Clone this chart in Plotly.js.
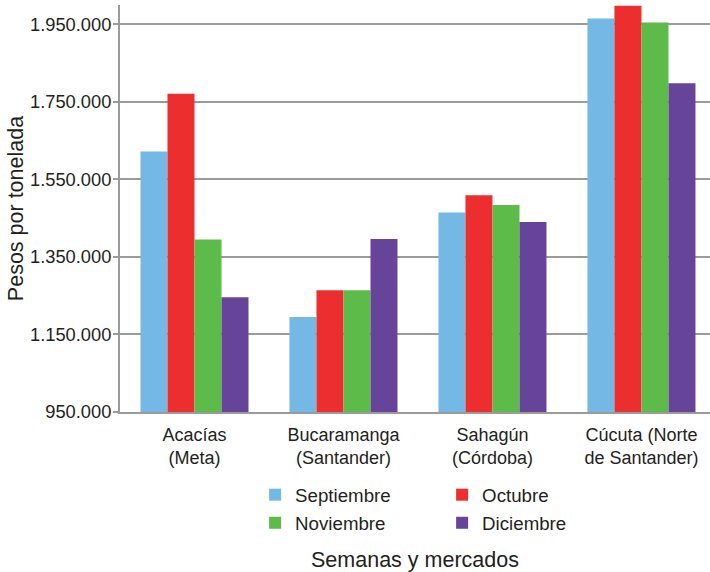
<!DOCTYPE html>
<html>
<head>
<meta charset="utf-8">
<script src="https://cdn.plot.ly/plotly-3.0.1.min.js"></script>
<style>html,body{margin:0;padding:0;background:#fff;}#chart{width:710px;height:572px;}</style>
</head>
<body>
<div id="chart"></div>
<script>
const categories = ["Acacías<br>(Meta)", "Bucaramanga<br>(Santander)", "Sahagún<br>(Córdoba)", "Cúcuta (Norte<br>de Santander)"];
const septiembre = [1622000, 1195000, 1465000, 1965000];
const octubre = [1771000, 1264000, 1509000, 1998000];
const noviembre = [1395000, 1264000, 1484000, 1955000];
const diciembre = [1246000, 1396000, 1440000, 1798000];
const yTicks = [950000, 1150000, 1350000, 1550000, 1750000, 1950000];

const FONT = "Liberation Sans, Arial, sans-serif";
const TXT = "#231f20";
const GRID = "#9b9b9b";

function mk(name, y, color, legend) {
  return {type: "bar", name: name, x: categories, y: y, marker: {color: color, line: {width: 0}},
          legend: legend, hoverinfo: "y"};
}
const data = [
  mk("Septiembre", septiembre, "#74b9e5", "legend"),
  mk("Octubre", octubre, "#ed2e2e", "legend"),
  mk("Noviembre", noviembre, "#5dbb4a", "legend2"),
  mk("Diciembre", diciembre, "#66449a", "legend2")
];
const legendBase = {orientation: "h", xanchor: "left", yanchor: "middle", x: 0.229,
  font: {family: FONT, size: 18.7, color: TXT}, bgcolor: "rgba(0,0,0,0)",
  entrywidthmode: "pixels", entrywidth: 142, traceorder: "normal"};
const layout = {
  width: 710, height: 572,
  margin: {l: 120, r: 0, t: 5, b: 160},
  paper_bgcolor: "#fff", plot_bgcolor: "#fff",
  separators: ",.",
  font: {family: FONT, size: 18, color: TXT},
  barmode: "group", bargap: 0.275, bargroupgap: 0,
  showlegend: true,
  legend: Object.assign({}, legendBase, {y: -0.204}),
  legend2: Object.assign({}, legendBase, {y: -0.273}),
  xaxis: {
    type: "category", range: [-0.5, 3.46],
    showline: true, linecolor: GRID, linewidth: 2, ticks: "",
    showgrid: false, zeroline: false, ticklabelstandoff: 5,
    tickfont: {family: FONT, size: 18, color: TXT},
    title: {text: "Semanas y mercados", font: {family: FONT, size: 21.5, color: TXT}, standoff: 95},
    fixedrange: true
  },
  yaxis: {
    range: [950000, 2000000], tickvals: yTicks, tickformat: ",d",
    showline: true, linecolor: GRID, linewidth: 2,
    ticks: "outside", ticklen: 5, tickwidth: 2, tickcolor: GRID, ticklabelstandoff: -2,
    showgrid: true, gridcolor: GRID, gridwidth: 2, zeroline: false,
    tickfont: {family: FONT, size: 18.3, color: TXT},
    title: {text: "Pesos por tonelada", font: {family: FONT, size: 21.5, color: TXT}},
    fixedrange: true
  }
};
Plotly.newPlot("chart", data, layout, {displayModeBar: false, staticPlot: true});
</script>
</body>
</html>
